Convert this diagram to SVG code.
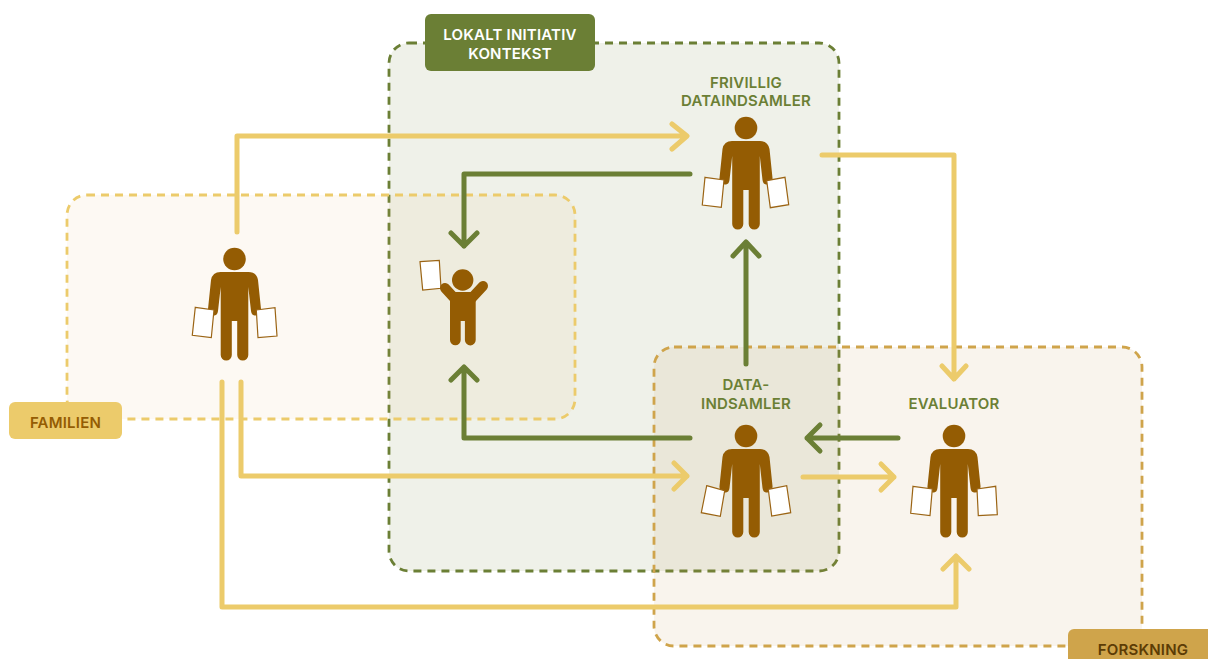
<svg xmlns="http://www.w3.org/2000/svg" width="1208" height="659" viewBox="0 0 1208 659">
<style>
text{font-family:"Inter","Roboto","Liberation Sans",sans-serif;font-weight:600;font-size:15px;letter-spacing:.2px;text-anchor:middle}
.box{stroke-width:2.8;stroke-dasharray:8 6}
.y{fill:none;stroke:#ECCB6B;stroke-width:5;stroke-linecap:round;stroke-linejoin:round}
.g{fill:none;stroke:#6B7F35;stroke-width:5;stroke-linecap:round;stroke-linejoin:round}
.paper{fill:#fff;stroke:#9B6414;stroke-width:1.2}
.fig{fill:#945C03}
.gt{fill:#6B7F35}
</style>
<defs>
<g id="adult">
<circle class="fig" r="11.3"/>
<path class="fig" d="M-14,13H14Q22,13 23.500,21L26.500,50Q27,57 20,56.500Q17,56 16.500,52L13.800,28V96A5.500,5.500 0 0 1 2.700,96V62H-2.700V96A5.500,5.500 0 0 1 -13.800,96V28L-16.500,52Q-17,56 -20,56.500Q-27,57 -26.500,50L-23.500,21Q-22,13 -14,13Z"/>
</g>
</defs>
<g id="lokalt-box"><rect class="box" x="389" y="43" width="450" height="528" rx="20" fill="#6B7F35" fill-opacity=".11" stroke="#6B7F35"/></g>
<g id="familien-box"><rect class="box" x="67" y="195" width="508" height="224" rx="20" fill="#E0B060" fill-opacity=".08" stroke="#ECCB6B"/></g>
<g id="forskning-box"><rect class="box" x="654" y="347" width="488" height="299" rx="20" fill="#C09050" fill-opacity=".1" stroke="#CFA44B"/></g>
<g id="connectors">
<path class="y" d="M237,232V136H686M672,124L687,136L672,149"/>
<path class="y" d="M822,155H954V379M942,366L954,379L966,366"/>
<path class="y" d="M803,477H894M881,464L894,477L881,490"/>
<path class="y" d="M241,382V476H687M674,463L687,476L674,489"/>
<path class="y" d="M222,382V607H956V556M943,569L956,556L969,569"/>
<path class="g" d="M690,174H464V246M451,233L464,246L477,233"/>
<path class="g" d="M746,364V242M733,256L746,242L759,256"/>
<path class="g" d="M690,438H464V367M451,380L464,367L477,380"/>
<path class="g" d="M898,438H807M820,425L807,438L820,451"/>
</g>
<g id="familien-label"><rect x="9" y="402" width="113" height="37" rx="6" fill="#ECCB6B"/><text x="65.500" y="428" fill="#945C03">FAMILIEN</text></g>
<g id="forskning-label"><rect x="1068" y="629" width="150" height="40" rx="6" fill="#CFA44B"/><text x="1143" y="655" fill="#5C3C05">FORSKNING</text></g>
<g id="lokalt-label"><rect x="425" y="14" width="170" height="57" rx="6" fill="#6B7F35"/><text x="510" y="40" fill="#fff">LOKALT INITIATIV</text><text x="510" y="59" fill="#fff">KONTEKST</text></g>
<g id="parent"><use href="#adult" x="234.500" y="259"/>
<polygon class="paper" points="195.300,307.300 214,310 211.300,337.700 192.300,335.300"/>
<polygon class="paper" points="256.300,310 275,307.700 277,336 258,337.700"/></g>
<g id="child">
<polygon class="paper" points="420,261.700 439.300,260.300 441,288.300 422.700,290"/>
<circle class="fig" cx="462.700" cy="280" r="10.700"/>
<path d="M445,288L456,300M483,286L470,300" fill="none" stroke="#945C03" stroke-width="10" stroke-linecap="round"/>
<path class="fig" d="M454,292H472Q475.700,292 475.700,296V340A5.400,5.400 0 0 1 464.900,340V321H460.700V340A5.350,5.350 0 0 1 450,340V296Q450,292 454,292Z"/>
</g>
<g id="frivillig"><text class="gt" x="746" y="88">FRIVILLIG</text><text class="gt" x="746" y="106">DATAINDSAMLER</text><use href="#adult" x="746" y="128"/>
<polygon class="paper" points="705,177.300 724,180 721.300,207.300 702.300,205"/>
<polygon class="paper" points="766.700,180.700 785,177.300 788.700,204.700 770.300,207.700"/></g>
<g id="dataindsamler"><text class="gt" x="746" y="390">DATA-</text><text class="gt" x="746" y="409">INDSAMLER</text><use href="#adult" x="746" y="436"/>
<polygon class="paper" points="706.700,485.700 724.700,490.700 720.300,516.300 701.300,512.700"/>
<polygon class="paper" points="768.300,489.300 786.700,485.700 790.700,512.700 771.700,516"/></g>
<g id="evaluator"><text class="gt" x="954" y="409">EVALUATOR</text><use href="#adult" x="954" y="436"/>
<polygon class="paper" points="913,486.300 932.300,489 930,515.700 910.700,513.300"/>
<polygon class="paper" points="977,489 995.700,486.300 997.300,514.700 978.300,515.700"/></g>
</svg>
